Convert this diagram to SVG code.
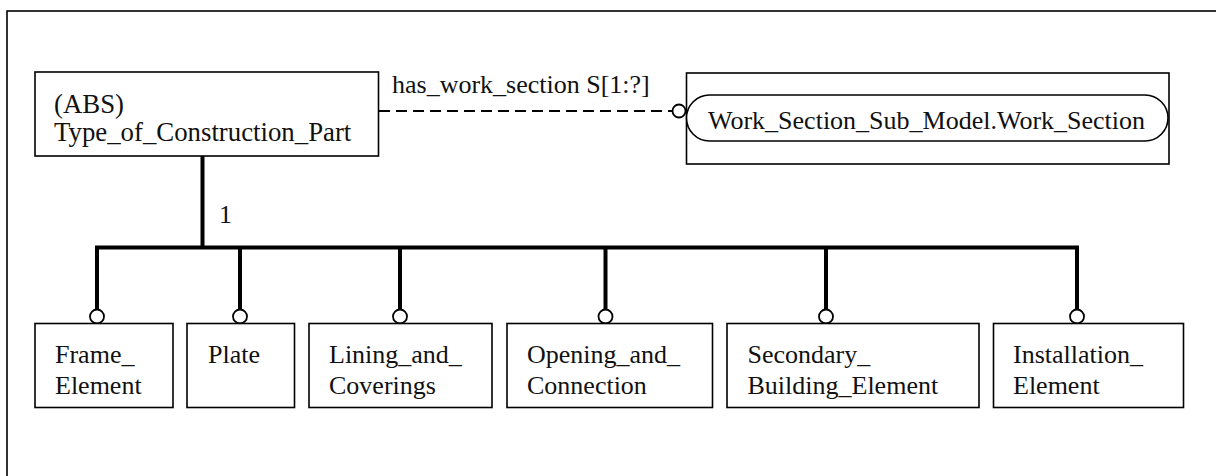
<svg xmlns="http://www.w3.org/2000/svg" width="1216" height="476" viewBox="0 0 1216 476">
  <style>
    .box { fill: #ffffff; stroke: #000000; stroke-width: 1.6; }
    .label { font-family: "Liberation Serif", "Times New Roman", serif; font-size: 26px; fill: #111111; }
    .wide { font-size: 26.8px; }
    .thick { stroke: #000000; stroke-width: 4; fill: none; }
    .dash { stroke: #000000; stroke-width: 1.8; fill: none; stroke-dasharray: 11 6; }
    .ring { fill: #ffffff; stroke: #000000; stroke-width: 1.8; }
  </style>

  <!-- page frame -->
  <rect x="7" y="11" width="1230" height="490" fill="none" stroke="#000000" stroke-width="1.6"/>

  <!-- connectors -->
  <g id="connectors">
    <line class="dash" x1="379" y1="111" x2="672" y2="111"/>
    <circle class="ring" cx="679" cy="111" r="6.5"/>
    <text class="label" x="392" y="93">has_work_section S[1:?]</text>

    <line class="thick" x1="202.5" y1="156" x2="202.5" y2="247.5"/>
    <polyline class="thick" points="97,309 97,247.5 1077,247.5 1077,309"/>
    <line class="thick" x1="240" y1="247.5" x2="240" y2="309"/>
    <line class="thick" x1="400" y1="247.5" x2="400" y2="309"/>
    <line class="thick" x1="605.5" y1="247.5" x2="605.5" y2="309"/>
    <line class="thick" x1="826" y1="247.5" x2="826" y2="309"/>
    <circle class="ring" cx="97" cy="316.5" r="7"/>
    <circle class="ring" cx="240" cy="316.5" r="7"/>
    <circle class="ring" cx="400" cy="316.5" r="7"/>
    <circle class="ring" cx="605.5" cy="316.5" r="7"/>
    <circle class="ring" cx="826" cy="316.5" r="7"/>
    <circle class="ring" cx="1077" cy="316.5" r="7"/>
    <text class="label" x="219" y="223">1</text>
  </g>

  <!-- supertype -->
  <g id="type_of_construction_part">
    <rect class="box" x="35" y="72" width="343.5" height="84"/>
    <text class="label wide" x="54" y="112.5">(ABS)</text>
    <text class="label wide" x="54" y="141">Type_of_Construction_Part</text>
  </g>

  <!-- referenced entity from another schema -->
  <g id="work_section">
    <rect class="box" x="686.5" y="73" width="482.5" height="91"/>
    <rect class="box" x="686.5" y="95" width="481.5" height="46" rx="23" ry="23"/>
    <text class="label" x="708" y="129">Work_Section_Sub_Model.Work_Section</text>
  </g>

  <!-- subtypes -->
  <g id="frame_element">
    <rect class="box" x="35" y="323.5" width="138" height="84"/>
    <text class="label" x="55" y="362.5">Frame_</text>
    <text class="label" x="55" y="393.5">Element</text>
  </g>
  <g id="plate">
    <rect class="box" x="187" y="323.5" width="107.5" height="84"/>
    <text class="label" x="208" y="362.5">Plate</text>
  </g>
  <g id="lining_and_coverings">
    <rect class="box" x="309" y="323.5" width="183" height="84"/>
    <text class="label" x="329" y="362.5">Lining_and_</text>
    <text class="label" x="329" y="393.5">Coverings</text>
  </g>
  <g id="opening_and_connection">
    <rect class="box" x="507" y="323.5" width="205.5" height="84"/>
    <text class="label" x="527" y="362.5">Opening_and_</text>
    <text class="label" x="527" y="393.5">Connection</text>
  </g>
  <g id="secondary_building_element">
    <rect class="box" x="727" y="323.5" width="252" height="84"/>
    <text class="label" x="747.5" y="362.5">Secondary_</text>
    <text class="label" x="747.5" y="393.5">Building_Element</text>
  </g>
  <g id="installation_element">
    <rect class="box" x="993.5" y="323.5" width="190" height="84"/>
    <text class="label" x="1013" y="362.5">Installation_</text>
    <text class="label" x="1013" y="393.5">Element</text>
  </g>
</svg>
